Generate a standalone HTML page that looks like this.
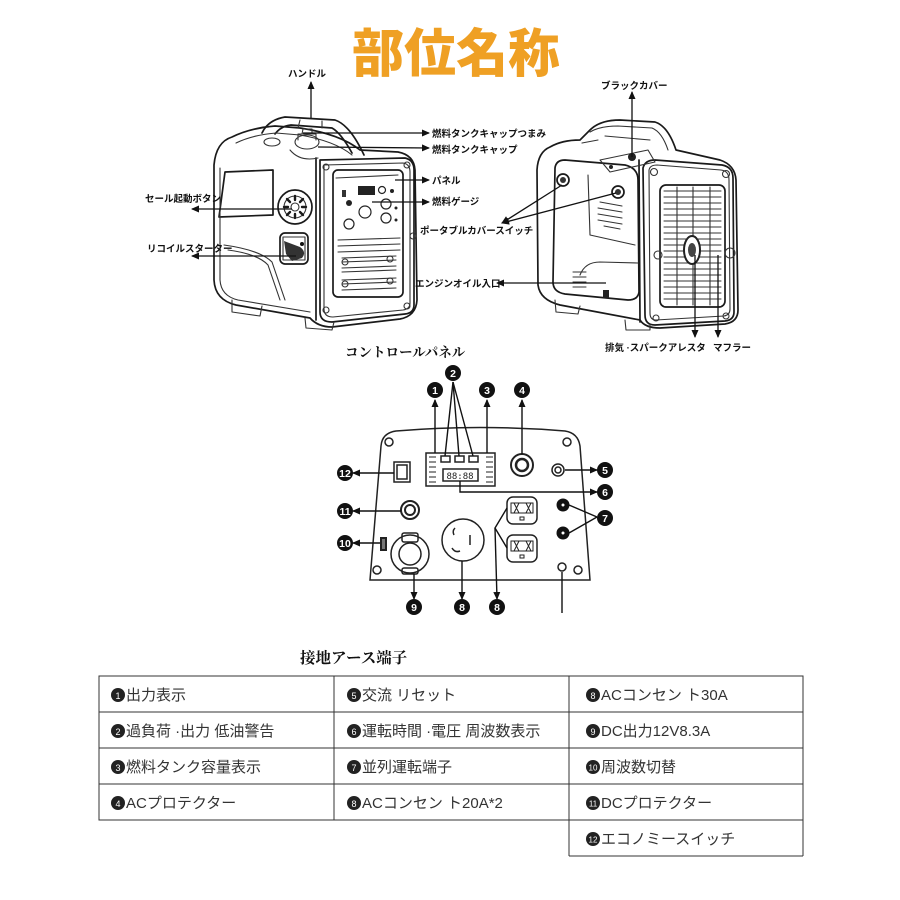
<!DOCTYPE html>
<html><head><meta charset="utf-8">
<style>
html,body{margin:0;padding:0;background:#fff;}
svg{display:block;}
.lb{font-family:"Liberation Sans","Noto Sans CJK JP",sans-serif;font-weight:700;font-size:9.5px;fill:#111;}
.sec{font-family:"Liberation Serif","Noto Serif CJK SC",serif;font-weight:700;fill:#111;}
.tb{font-family:"Liberation Sans","Noto Sans CJK JP",sans-serif;font-size:15px;fill:#333;}
.num{font-family:"Liberation Sans",sans-serif;font-weight:700;font-size:10.5px;fill:#fff;}
.g{fill:none;stroke:#1a1a1a;stroke-width:1.7;stroke-linejoin:round;stroke-linecap:round;}
.g2{fill:none;stroke:#333;stroke-width:1.1;stroke-linejoin:round;stroke-linecap:round;}
.t{fill:none;stroke:#333;stroke-width:1;}
</style></head>
<body>
<svg width="900" height="900" viewBox="0 0 900 900" xmlns="http://www.w3.org/2000/svg">
<defs>
<marker id="a" markerWidth="8" markerHeight="8" refX="7" refY="4" orient="auto" markerUnits="userSpaceOnUse"><path d="M0,0.5 L8,4 L0,7.5 Z" fill="#111"/></marker>
</defs>

<!-- Title -->
<text x="456" y="72" text-anchor="middle" font-family="'Noto Sans CJK JP',sans-serif" font-weight="900" font-size="52" fill="#EFA024">部位名称</text>

<!-- ============ LEFT GENERATOR ============ -->
<g class="g">
  <path d="M232 137 Q250 128 275 126 L300 128 Q340 134 360 150 L398 152 Q414 155 415 170 L417 300 Q416 316 400 319 L332 327 Q318 327 310 318 L236 305 Q215 300 214 280 L214 165 Q216 142 232 137 Z"/>
  <path d="M262 133 Q268 120 285 117 L335 120 Q350 125 364 155"/>
  <path d="M275 134 Q281 126 291 125 L332 128 Q341 133 352 153"/>
  <path d="M320 160 L405 158 Q414 160 414 170 L414 305 Q414 313 405 314 L332 322 Q320 322 320 312 Z"/>
  <path d="M316 158 L316 320"/>
  <rect x="333" y="170" width="70" height="127" rx="5"/>
  <circle cx="295" cy="207" r="17"/>
  <rect x="280" y="233" width="28" height="31" rx="5"/>
  <path d="M225 172 L273 170 L273 215 L219 217 Z"/>
</g>
<g class="g2">
  <path d="M236 143 Q252 135 276 133 L300 135 Q335 141 352 155 M220 168 L220 280 Q221 296 238 300 L310 312"/>
  <path d="M300 120 L298 128 M322 121 L322 128"/>
  <ellipse cx="307" cy="142" rx="12" ry="7"/>
  <path d="M298 140 L298 134 L316 134 L316 140 M302 134 L303 129 L312 129 L312 134"/>
  <ellipse cx="272" cy="142" rx="8" ry="4"/>
  <path d="M290 150 Q300 162 318 158"/>
  <path d="M324 165 L403 163 Q410 164 410 172 L410 303 Q410 309 403 310 L333 317 Q324 317 324 309 Z"/>
  <circle cx="326" cy="167" r="3"/><circle cx="407" cy="165" r="3"/>
  <circle cx="326" cy="310" r="3"/><circle cx="407" cy="306" r="3"/>
  <circle cx="413" cy="236" r="3"/>
  <path d="M336 178 L398 175"/>
  <path d="M338 240 L400 238 M338 246 L400 244 M338 252 L400 250"/>
  <path d="M342 258 L396 256 M342 262 L396 260 M342 268 L396 266 M342 272 L396 270 M342 280 L396 278 M342 284 L396 282 M342 290 L396 288"/>
  <circle cx="345" cy="262" r="3"/><circle cx="390" cy="259" r="3"/>
  <circle cx="345" cy="284" r="3"/><circle cx="390" cy="281" r="3"/>
  <circle cx="295" cy="207" r="11"/>
  <circle cx="295" cy="207" r="4"/>
  <path d="M224 245 Q260 250 272 262 L285 300"/>
  <path d="M228 250 Q258 254 268 265 L280 300"/>
  <path d="M232 300 L232 312 L260 316 L262 306 M305 318 L306 328 L332 330 L334 322"/>
  <path d="M283 237 L305 237 L305 260 L283 260 Z"/>
</g>
<g stroke="#1a1a1a" stroke-width="2.4" stroke-linecap="round">
  <path d="M295 196 L295 200 M295 214 L295 218 M284 207 L288 207 M302 207 L306 207 M287 199 L290 202 M300 212 L303 215 M287 215 L290 212 M300 202 L303 199"/>
</g>
<path d="M284 241 L300 247 Q307 252 302 258 L292 261 L286 254 Z" fill="#333"/>
<circle cx="302" cy="244" r="2" fill="#111"/>
<rect x="358" y="186" width="17" height="9" fill="#222"/>
<rect x="342" y="190" width="4" height="7" fill="#333"/>
<circle cx="382" cy="190" r="3.5" fill="none" stroke="#222" stroke-width="1.2"/>
<circle cx="392" cy="191" r="2" fill="#222"/>
<circle cx="386" cy="204" r="5" fill="none" stroke="#222" stroke-width="1.2"/>
<circle cx="386" cy="218" r="5" fill="none" stroke="#222" stroke-width="1.2"/>
<circle cx="365" cy="212" r="6" fill="none" stroke="#222" stroke-width="1.2"/>
<circle cx="349" cy="203" r="3" fill="#222"/>
<circle cx="349" cy="224" r="5" fill="none" stroke="#222" stroke-width="1.2"/>
<circle cx="396" cy="208" r="1.5" fill="#222"/><circle cx="396" cy="220" r="1.5" fill="#222"/>

<!-- ============ RIGHT GENERATOR ============ -->
<g class="g">
  <path d="M550 147 Q562 140 580 140 L590 130 Q600 120 620 120 L655 122 Q668 126 676 150 L720 160 Q735 165 736 180 L738 310 Q738 322 725 324 L660 328 Q645 328 640 320 L560 305 Q540 300 538 285 L537 170 Q538 152 550 147 Z"/>
  <path d="M643 168 Q645 160 655 160 L722 165 Q733 167 733 178 L734 312 Q734 320 725 321 L655 325 Q645 325 645 315 Z"/>
  <path d="M639 160 L640 322"/>
  <rect x="660" y="185" width="65" height="122" rx="6"/>
  <path d="M555 168 Q556 160 565 160 L625 165 Q638 168 638 180 L639 292 Q638 300 628 300 L565 294 Q553 292 553 282 Z"/>
  <circle cx="563" cy="180" r="6"/><circle cx="618" cy="192" r="6"/>
</g>
<g class="g2">
  <path d="M590 132 Q600 126 618 126 L652 128 Q662 132 668 150"/>
  <path d="M582 143 L598 140 M605 136 L650 140"/>
  <path d="M649 170 Q650 165 657 165 L721 170 Q729 171 729 180 L730 309 Q730 315 724 316 L656 320 Q650 320 650 313 Z"/>
  <path d="M664 191 H721 M664 197 H721 M664 203 H721 M664 209 H721 M664 215 H721 M664 221 H721 M664 227 H721 M664 233 H721 M664 239 H721 M664 245 H721 M664 251 H721 M664 257 H721 M664 263 H721 M664 269 H721 M664 275 H721 M664 281 H721 M664 287 H721 M664 293 H721 M664 299 H721"/>
  <path d="M677 187 V305 M693 187 V305 M710 187 V305"/>
  <circle cx="654" cy="172" r="3.5"/><circle cx="726" cy="174" r="3.5"/>
  <circle cx="658" cy="255" r="4"/><circle cx="730" cy="253" r="5"/>
  <circle cx="656" cy="318" r="3"/><circle cx="726" cy="316" r="3"/>
  <path d="M588 175 L590 235 L635 245 M580 275 Q585 262 600 262 L638 263"/>
  <path d="M600 160 L648 150 L655 162 L610 172 Z"/>
  <path d="M600 202 L622 206 M598 208 L622 212 M598 214 L622 218 M598 220 L622 224 M604 226 L620 229"/>
  <path d="M573 272 L586 272 M573 277 L586 277 M573 282 L586 282 M573 287 L586 287"/>
  <path d="M555 300 L556 312 L578 314 L580 306 M625 320 L626 330 L650 330 L650 324"/>
</g>
<ellipse cx="692" cy="250" rx="8" ry="14" fill="#fff" stroke="#222" stroke-width="2"/>
<ellipse cx="692" cy="250" rx="4" ry="7" fill="#444"/>
<circle cx="632" cy="157" r="4" fill="#222"/>
<circle cx="611" cy="167" r="2" fill="#222"/>
<circle cx="563" cy="180" r="3" fill="#333"/><circle cx="618" cy="192" r="3" fill="#333"/>
<rect x="603" y="290" width="6" height="8" fill="#222"/>

<!-- ============ TOP LABELS & ARROWS ============ -->
<g stroke="#111" stroke-width="1.3" fill="none">
  <line x1="311" y1="118" x2="311" y2="82" marker-end="url(#a)"/>
  <line x1="303" y1="133" x2="429" y2="133" marker-end="url(#a)"/>
  <line x1="318" y1="147" x2="429" y2="148" marker-end="url(#a)"/>
  <line x1="395" y1="180" x2="429" y2="180" marker-end="url(#a)"/>
  <line x1="372" y1="202" x2="429" y2="202" marker-end="url(#a)"/>
  <line x1="292" y1="209" x2="192" y2="209" marker-end="url(#a)"/>
  <line x1="296" y1="256" x2="192" y2="256" marker-end="url(#a)"/>
  <line x1="616" y1="193" x2="502" y2="223" marker-end="url(#a)"/>
  <line x1="562" y1="185" x2="502" y2="223" marker-end="url(#a)"/>
  <line x1="606" y1="283" x2="497" y2="283" marker-end="url(#a)"/>
  <line x1="632" y1="157" x2="632" y2="92" marker-end="url(#a)"/>
  <line x1="695" y1="255" x2="695" y2="337" marker-end="url(#a)"/>
  <line x1="718" y1="255" x2="718" y2="337" marker-end="url(#a)"/>
</g>
<text class="lb" x="288" y="77">ハンドル</text>
<text class="lb" x="432" y="137">燃料タンクキャップつまみ</text>
<text class="lb" x="432" y="153">燃料タンクキャップ</text>
<text class="lb" x="432" y="184">パネル</text>
<text class="lb" x="432" y="205">燃料ゲージ</text>
<text class="lb" x="145" y="202">セール起動ボタン</text>
<text class="lb" x="147" y="252">リコイルスターター</text>
<text class="lb" x="420" y="234">ポータブルカバースイッチ</text>
<text class="lb" x="415" y="287">エンジンオイル入口</text>
<text class="lb" x="601" y="89">ブラックカバー</text>
<text class="lb" x="605" y="351">排気 ·スパークアレスタ</text>
<text class="lb" x="713" y="351">マフラー</text>

<text class="sec" x="345" y="357" font-size="13.5">コントロールパネル</text>

<!-- ============ CONTROL PANEL ============ -->
<g fill="none" stroke="#222" stroke-width="1.5">
  <path d="M370 580 L381 446 Q382 433 396 431 Q480 424 565 431 Q578 433 580 446 L590 580 Z"/>
  <circle cx="389" cy="442" r="4"/><circle cx="567" cy="442" r="4"/>
  <circle cx="377" cy="570" r="4"/><circle cx="578" cy="570" r="4"/>
  <rect x="426" y="453" width="69" height="33"/>
  <rect x="441" y="456" width="9" height="6"/><rect x="455" y="456" width="9" height="6"/><rect x="469" y="456" width="9" height="6"/>
  <rect x="443" y="469" width="35" height="12"/>
  <circle cx="522" cy="465" r="11" stroke-width="2"/>
  <circle cx="522" cy="465" r="6" stroke-width="2.5"/>
  <circle cx="558" cy="470" r="6"/><circle cx="558" cy="470" r="3"/>
  <rect x="394" y="462" width="16" height="20"/><rect x="397" y="465" width="10" height="14"/>
  <circle cx="410" cy="510" r="9" stroke-width="2"/><circle cx="410" cy="510" r="5" stroke-width="2"/>
  <circle cx="410" cy="554" r="19"/><circle cx="410" cy="554" r="11"/>
  <rect x="402" y="533" width="16" height="9" rx="2"/>
  <rect x="402" y="568" width="16" height="6" rx="2"/>
  <circle cx="463" cy="540" r="21"/>
  <path d="M455 528 Q452 531 454 535 M470 535 L470 545 M452 548 Q455 553 460 551"/>
  <rect x="507" y="497" width="30" height="27" rx="6"/>
  <rect x="507" y="535" width="30" height="27" rx="6"/>
  <circle cx="562" cy="567" r="4"/>
</g>
<g fill="none" stroke="#222" stroke-width="1">
  <path d="M429 457 h7 M429 462 h7 M429 467 h7 M429 472 h7 M429 477 h7 M429 482 h7"/>
  <path d="M486 457 h7 M486 462 h7 M486 467 h7 M486 472 h7 M486 477 h7 M486 482 h7"/>
  <path d="M511 503 h22 v10 h-22 z M514 503 l5 10 M519 503 l-5 10 M526 503 l5 10 M531 503 l-5 10 M520 517 h4 v3 h-4 z"/>
  <path d="M511 541 h22 v10 h-22 z M514 541 l5 10 M519 541 l-5 10 M526 541 l5 10 M531 541 l-5 10 M520 555 h4 v3 h-4 z"/>
</g>
<text x="460" y="479" text-anchor="middle" font-family="'DejaVu Sans Mono',monospace" font-size="9" fill="#222">88:88</text>
<rect x="380" y="537" width="7" height="14" fill="#222"/>
<rect x="382" y="539" width="3" height="10" fill="#777"/>
<circle cx="563" cy="505" r="6.5" fill="#111"/><circle cx="563" cy="505" r="1.5" fill="#fff"/>
<circle cx="563" cy="533" r="6.5" fill="#111"/><circle cx="563" cy="533" r="1.5" fill="#fff"/>

<g stroke="#111" stroke-width="1.4" fill="none">
  <line x1="435" y1="453" x2="435" y2="400" marker-end="url(#a)"/>
  <line x1="453" y1="382" x2="445" y2="456"/>
  <line x1="453" y1="382" x2="459" y2="456"/>
  <line x1="453" y1="382" x2="473" y2="456"/>
  <line x1="487" y1="453" x2="487" y2="400" marker-end="url(#a)"/>
  <line x1="522" y1="454" x2="522" y2="400" marker-end="url(#a)"/>
  <line x1="565" y1="470" x2="597" y2="470" marker-end="url(#a)"/>
  <polyline points="460,481 460,492 597,492" marker-end="url(#a)"/>
  <line x1="569" y1="505" x2="597" y2="517"/>
  <line x1="569" y1="533" x2="597" y2="517"/>
  <line x1="394" y1="473" x2="353" y2="473" marker-end="url(#a)"/>
  <line x1="401" y1="511" x2="353" y2="511" marker-end="url(#a)"/>
  <line x1="380" y1="543" x2="353" y2="543" marker-end="url(#a)"/>
  <line x1="414" y1="574" x2="414" y2="599" marker-end="url(#a)"/>
  <line x1="462" y1="561" x2="462" y2="599" marker-end="url(#a)"/>
  <polyline points="507,508 495,528 507,548"/>
  <line x1="495" y1="528" x2="497" y2="599" marker-end="url(#a)"/>
  <line x1="562" y1="572" x2="562" y2="613"/>
</g>
<g>
  <circle cx="435" cy="390" r="8" fill="#111"/><text class="num" x="435" y="394" text-anchor="middle">1</text>
  <circle cx="453" cy="373" r="8" fill="#111"/><text class="num" x="453" y="377" text-anchor="middle">2</text>
  <circle cx="487" cy="390" r="8" fill="#111"/><text class="num" x="487" y="394" text-anchor="middle">3</text>
  <circle cx="522" cy="390" r="8" fill="#111"/><text class="num" x="522" y="394" text-anchor="middle">4</text>
  <circle cx="605" cy="470" r="8" fill="#111"/><text class="num" x="605" y="474" text-anchor="middle">5</text>
  <circle cx="605" cy="492" r="8" fill="#111"/><text class="num" x="605" y="496" text-anchor="middle">6</text>
  <circle cx="605" cy="518" r="8" fill="#111"/><text class="num" x="605" y="522" text-anchor="middle">7</text>
  <circle cx="345" cy="473" r="8" fill="#111"/><text class="num" x="345" y="477" text-anchor="middle" font-size="9">12</text>
  <circle cx="345" cy="511" r="8" fill="#111"/><text class="num" x="345" y="515" text-anchor="middle" font-size="9">11</text>
  <circle cx="345" cy="543" r="8" fill="#111"/><text class="num" x="345" y="547" text-anchor="middle" font-size="9">10</text>
  <circle cx="414" cy="607" r="8" fill="#111"/><text class="num" x="414" y="611" text-anchor="middle">9</text>
  <circle cx="462" cy="607" r="8" fill="#111"/><text class="num" x="462" y="611" text-anchor="middle">8</text>
  <circle cx="497" cy="607" r="8" fill="#111"/><text class="num" x="497" y="611" text-anchor="middle">8</text>
</g>

<text class="sec" x="300" y="663" font-size="15.5">接地アース端子</text>

<!-- ============ TABLE ============ -->
<g class="t">
  <rect x="99" y="676" width="704" height="144"/>
  <line x1="334" y1="676" x2="334" y2="820"/>
  <line x1="569" y1="676" x2="569" y2="856"/>
  <line x1="803" y1="820" x2="803" y2="856"/>
  <line x1="569" y1="856" x2="803" y2="856"/>
  <line x1="99" y1="712" x2="803" y2="712"/>
  <line x1="99" y1="748" x2="803" y2="748"/>
  <line x1="99" y1="784" x2="803" y2="784"/>
</g>
<g font-family="'Liberation Sans',sans-serif" fill="#fff" text-anchor="middle">
  <circle cx="118" cy="695" r="7" fill="#222"/><text x="118" y="699" font-size="9">1</text>
  <circle cx="118" cy="731" r="7" fill="#222"/><text x="118" y="735" font-size="9">2</text>
  <circle cx="118" cy="767" r="7" fill="#222"/><text x="118" y="771" font-size="9">3</text>
  <circle cx="118" cy="803" r="7" fill="#222"/><text x="118" y="807" font-size="9">4</text>
  <circle cx="354" cy="695" r="7" fill="#222"/><text x="354" y="699" font-size="9">5</text>
  <circle cx="354" cy="731" r="7" fill="#222"/><text x="354" y="735" font-size="9">6</text>
  <circle cx="354" cy="767" r="7" fill="#222"/><text x="354" y="771" font-size="9">7</text>
  <circle cx="354" cy="803" r="7" fill="#222"/><text x="354" y="807" font-size="9">8</text>
  <circle cx="593" cy="695" r="7" fill="#222"/><text x="593" y="699" font-size="9">8</text>
  <circle cx="593" cy="731" r="7" fill="#222"/><text x="593" y="735" font-size="9">9</text>
  <circle cx="593" cy="767" r="7" fill="#222"/><text x="593" y="770.5" font-size="8">10</text>
  <circle cx="593" cy="803" r="7" fill="#222"/><text x="593" y="806.5" font-size="8">11</text>
  <circle cx="593" cy="839" r="7" fill="#222"/><text x="593" y="842.5" font-size="8">12</text>
</g>
<text class="tb" x="126" y="700">出力表示</text>
<text class="tb" x="126" y="736">過負荷 ·出力  低油警告</text>
<text class="tb" x="126" y="772">燃料タンク容量表示</text>
<text class="tb" x="126" y="808">ACプロテクター</text>
<text class="tb" x="362" y="700">交流 リセット</text>
<text class="tb" x="362" y="736">運転時間 ·電圧  周波数表示</text>
<text class="tb" x="362" y="772">並列運転端子</text>
<text class="tb" x="362" y="808">ACコンセン ト20A*2</text>
<text class="tb" x="601" y="700">ACコンセン ト30A</text>
<text class="tb" x="601" y="736">DC出力12V8.3A</text>
<text class="tb" x="601" y="772">周波数切替</text>
<text class="tb" x="601" y="808">DCプロテクター</text>
<text class="tb" x="601" y="844">エコノミースイッチ</text>
</svg>
</body></html>
